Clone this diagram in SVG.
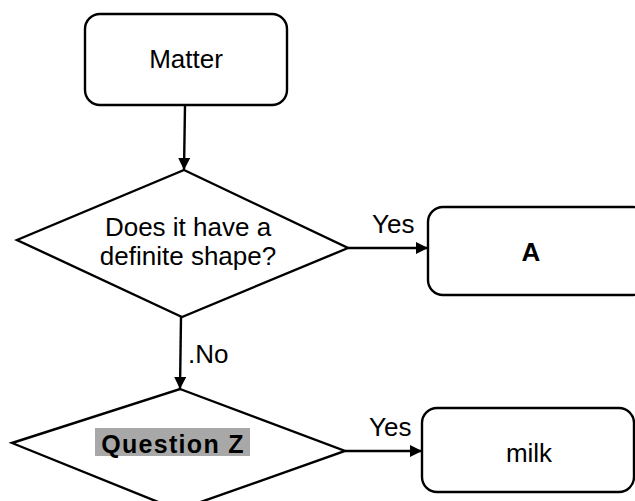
<svg xmlns="http://www.w3.org/2000/svg" width="635" height="501" viewBox="0 0 635 501">
<style>
.shape{fill:#fff;stroke:#000;stroke-width:2.4}
.conn{fill:none;stroke:#000;stroke-width:2.4}
.t{font-family:"Liberation Sans",Arial,sans-serif;font-size:26px;fill:#000}
.c{text-anchor:middle}
.b{font-weight:bold}
</style>
<defs>
<marker id="a" viewBox="0 0 10 10" refX="10" refY="5" markerWidth="12" markerHeight="12" orient="auto" markerUnits="userSpaceOnUse">
<path d="M0,0 L10,5 L0,10 z" fill="#000"/>
</marker>
</defs>
<rect width="635" height="501" fill="#fff"/>
<g id="connectors">
<line class="conn" x1="185" y1="105" x2="184" y2="170" marker-end="url(#a)"/>
<line class="conn" x1="348" y1="248" x2="428" y2="248" marker-end="url(#a)"/>
<line class="conn" x1="181" y1="317" x2="180" y2="389" marker-end="url(#a)"/>
<line class="conn" x1="345" y1="451" x2="422" y2="451" marker-end="url(#a)"/>
<text class="t" x="372" y="233">Yes</text>
<text class="t" x="188" y="363">.No</text>
<text class="t" x="369" y="436">Yes</text>
</g>
<g id="matter">
<rect class="shape" x="85" y="14" width="202" height="91" rx="15"/>
<text class="t c" x="186" y="68">Matter</text>
</g>
<g id="q1">
<polygon class="shape" points="184,170 348,248 182,317 17,240"/>
<text class="t c" x="188" y="236">Does it have a</text>
<text class="t c" x="188" y="265">definite shape?</text>
</g>
<g id="a">
<rect class="shape" x="428" y="207" width="220" height="88" rx="15"/>
<text class="t c b" x="531" y="261">A</text>
</g>
<g id="qz">
<polygon class="shape" points="180,389 345,451 178,510 12,443"/>
<rect x="95" y="428" width="155" height="28" fill="#a8a8a8"/>
<text class="t c b" x="173" y="453" style="font-size:25px;letter-spacing:1.3px">Question Z</text>
</g>
<g id="milk">
<rect class="shape" x="422" y="408" width="212" height="84" rx="15"/>
<text class="t c" x="529" y="462">milk</text>
</g>
</svg>
